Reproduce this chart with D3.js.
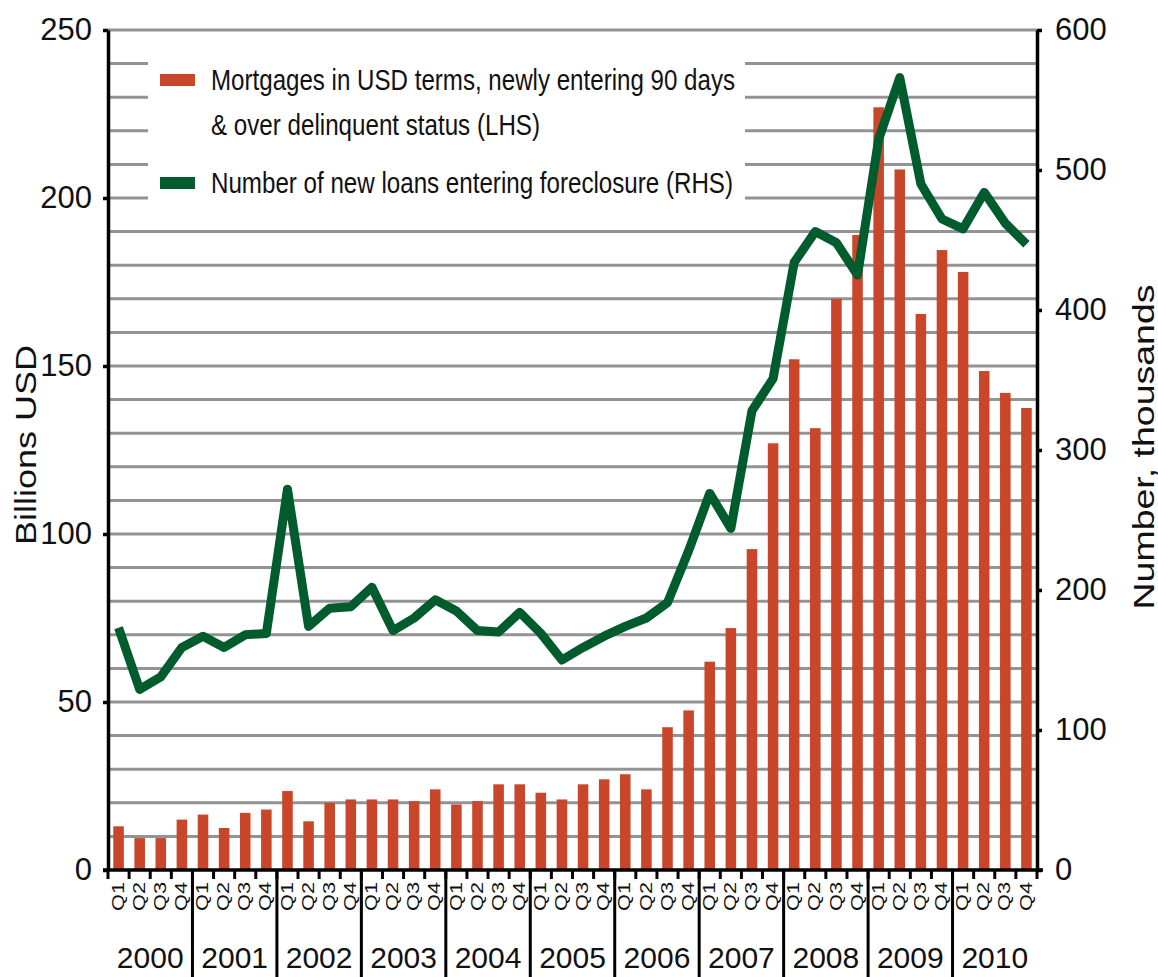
<!DOCTYPE html>
<html>
<head>
<meta charset="utf-8">
<script src="https://cdn.jsdelivr.net/npm/d3@7/dist/d3.min.js"></script>
<style>
  body { margin: 0; background: #fff; }
  svg { display: block; font-family: "Liberation Sans", Arial, sans-serif; }
</style>
</head>
<body>
<svg class="chart" width="1158" height="977"></svg>
<script>
// data
const years = ['2000', '2001', '2002', '2003', '2004', '2005', '2006', '2007', '2008', '2009', '2010'];
const quarters = ['Q1', 'Q2', 'Q3', 'Q4'];

// billions USD (LHS)
const mortgages = [
  13, 9.5, 9.5, 15,
  16.5, 12.5, 17, 18,
  23.5, 14.5, 20, 21,
  21, 21, 20.5, 24,
  19.5, 20.5, 25.5, 25.5,
  23, 21, 25.5, 27,
  28.5, 24, 42.5, 47.5,
  62, 72, 95.5, 127,
  152, 131.5, 170, 189,
  227, 208.5, 165.5, 184.5,
  178, 148.5, 142, 137.5
];

// thousands (RHS)
const foreclosures = [
  173, 129, 138, 159,
  167, 159, 168, 169,
  272, 174, 187, 188,
  202, 171, 180, 193,
  185, 171, 170, 184,
  169, 150, 159, 167,
  174, 180, 191, 228,
  269, 244, 328, 351,
  434, 456, 448, 425,
  522, 566, 490, 465,
  458, 484, 462, 447
];

const leftTicks = [0, 50, 100, 150, 200, 250];
const rightTicks = [0, 100, 200, 300, 400, 500, 600];

const legendLabels = [
  'Mortgages in USD terms, newly entering 90 days',
  '& over delinquent status (LHS)',
  'Number of new loans entering foreclosure (RHS)'
];

const svg = d3.select('.chart');
const width = +svg.attr('width');
const height = +svg.attr('height');
const margin = { top: 30, right: 121, bottom: 107, left: 108 };
const x0 = margin.left, x1 = width - margin.right;
const y0 = height - margin.bottom, y1 = margin.top;

const red = '#c9462b';
const green = '#005b2d';
const grid = '#939393';

const periods = [];
years.forEach(y => quarters.forEach(q => periods.push(y + q)));

const rows = periods.map((key, i) => ({
  key: key,
  q: quarters[i % 4],
  m: mortgages[i],
  f: foreclosures[i]
}));

const xBar = d3.scaleBand()
  .domain(periods)
  .range([x0, x1])
  .paddingInner(0.5)
  .paddingOuter(0.25);

const xQ = d3.scaleBand().domain(periods).range([x0, x1]);
const xYear = d3.scaleBand().domain(years).range([x0, x1]);

const yL = d3.scaleLinear().domain([0, 250]).range([y0, y1]);
const yR = d3.scaleLinear().domain([0, 600]).range([y0, y1]);

// gridlines every 10 on the left scale
svg.append('g')
  .selectAll('line')
  .data(d3.range(10, 251, 10))
  .enter()
  .append('line')
    .attr('x1', x0)
    .attr('x2', x1)
    .attr('y1', d => yL(d))
    .attr('y2', d => yL(d))
    .attr('stroke', grid)
    .attr('stroke-width', 3);

// bars
svg.append('g')
  .selectAll('rect')
  .data(rows)
  .enter()
  .append('rect')
    .attr('x', d => xBar(d.key))
    .attr('y', d => yL(d.m))
    .attr('width', xBar.bandwidth())
    .attr('height', d => yL(0) - yL(d.m))
    .attr('fill', red);

// legend
const lg = svg.append('g');
lg.append('rect')
  .attr('x', 148).attr('y', 42)
  .attr('width', 597).attr('height', 168)
  .attr('fill', '#fff');
lg.append('rect')
  .attr('x', 160).attr('y', 74)
  .attr('width', 35).attr('height', 12)
  .attr('fill', red);
lg.append('rect')
  .attr('x', 160).attr('y', 177)
  .attr('width', 35).attr('height', 12)
  .attr('fill', green);

const legendY = [80, 125, 183];
const legendLen = [524, 329, 522];
lg.selectAll('text')
  .data(legendLabels)
  .enter()
  .append('text')
    .attr('x', 211)
    .attr('y', (d, i) => legendY[i])
    .attr('dy', '0.35em')
    .attr('textLength', (d, i) => legendLen[i])
    .attr('lengthAdjust', 'spacingAndGlyphs')
    .style('font-size', '29px')
    .attr('fill', '#111')
    .text(d => d);

// line
const line = d3.line()
  .x(d => xBar(d.key) + xBar.bandwidth() / 2)
  .y(d => yR(d.f));

svg.append('path')
  .datum(rows)
  .attr('d', line)
  .attr('fill', 'none')
  .attr('stroke', green)
  .attr('stroke-width', 9)
  .attr('stroke-linejoin', 'round');

// left axis
const leftAxis = d3.axisLeft(yL)
  .tickValues(leftTicks)
  .tickSize(5)
  .tickSizeOuter(0)
  .tickPadding(11);

const leftG = svg.append('g')
  .attr('transform', `translate(${x0},0)`)
  .call(leftAxis);

// right axis
const rightAxis = d3.axisRight(yR)
  .tickValues(rightTicks)
  .tickSize(5)
  .tickSizeOuter(0)
  .tickPadding(13);

const rightG = svg.append('g')
  .attr('transform', `translate(${x1},0)`)
  .call(rightAxis);

[leftG, rightG].forEach(g => {
  g.select('.domain').attr('stroke', '#000').attr('stroke-width', 3.5);
  g.selectAll('.tick line').attr('stroke', '#000').attr('stroke-width', 3.5);
  g.selectAll('.tick text')
    .style('font-size', '31px')
    .style('font-family', '"Liberation Sans", Arial, sans-serif')
    .attr('fill', '#111');
});

// x axis
const xg = svg.append('g');
xg.append('line')
  .attr('x1', x0 - 5).attr('x2', x1 + 6)
  .attr('y1', y0).attr('y2', y0)
  .attr('stroke', '#000').attr('stroke-width', 3.5);

// quarter ticks
xg.selectAll('.qtick')
  .data(periods.concat(['end']))
  .enter()
  .append('line')
    .attr('class', 'qtick')
    .attr('x1', d => d === 'end' ? x1 : xQ(d))
    .attr('x2', d => d === 'end' ? x1 : xQ(d))
    .attr('y1', y0)
    .attr('y2', y0 + 9)
    .attr('stroke', '#000')
    .attr('stroke-width', 3);

// year separators
xg.selectAll('.ysep')
  .data(years.slice(1))
  .enter()
  .append('line')
    .attr('class', 'ysep')
    .attr('x1', d => xYear(d))
    .attr('x2', d => xYear(d))
    .attr('y1', y0)
    .attr('y2', height)
    .attr('stroke', '#000')
    .attr('stroke-width', 3);

// quarter labels
xg.selectAll('.qlab')
  .data(rows)
  .enter()
  .append('text')
    .attr('class', 'qlab')
    .attr('transform', d => `translate(${xQ(d.key) + xQ.bandwidth() / 2 - 1},${y0 + 12}) rotate(-90)`)
    .attr('text-anchor', 'end')
    .attr('dy', '0.36em')
    .attr('textLength', 29)
    .attr('lengthAdjust', 'spacingAndGlyphs')
    .style('font-size', '17px')
    .attr('fill', '#111')
    .text(d => d.q);

// year labels
xg.selectAll('.ylab')
  .data(years)
  .enter()
  .append('text')
    .attr('class', 'ylab')
    .attr('x', d => xYear(d) + xYear.bandwidth() / 2)
    .attr('y', 968)
    .attr('text-anchor', 'middle')
    .style('font-size', '30px')
    .attr('fill', '#111')
    .text(d => d);

// axis titles
svg.append('text')
  .attr('transform', 'translate(25,445) rotate(-90)')
  .attr('text-anchor', 'middle')
  .attr('dy', '0.35em')
  .attr('textLength', 200)
  .attr('lengthAdjust', 'spacingAndGlyphs')
  .style('font-size', '30px')
  .attr('fill', '#111')
  .text('Billions USD');

svg.append('text')
  .attr('transform', 'translate(1143,447) rotate(-90)')
  .attr('text-anchor', 'middle')
  .attr('dy', '0.35em')
  .attr('textLength', 325)
  .attr('lengthAdjust', 'spacingAndGlyphs')
  .style('font-size', '30px')
  .attr('fill', '#111')
  .text('Number, thousands');
</script>
</body>
</html>
